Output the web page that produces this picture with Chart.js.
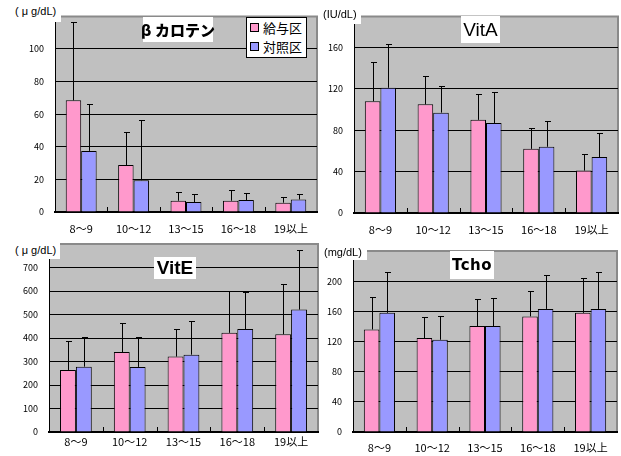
<!DOCTYPE html>
<html>
<head>
<meta charset="utf-8">
<script src="https://cdn.jsdelivr.net/npm/chart.js@4/dist/chart.umd.min.js"></script>
<style>
  html, body { margin:0; padding:0; background:#fff; width:621px; height:456px; overflow:hidden; }
  #wrap { position:relative; width:621px; height:456px; font-family:"Noto Sans CJK JP", sans-serif; }
  #wrap canvas { position:absolute; left:0; top:0; }
  .box { position:absolute; background:#fff; color:#000; white-space:nowrap; z-index:5;
         display:flex; align-items:center; justify-content:center; }
  .unit { font-family:"Liberation Sans", Arial, sans-serif; font-size:11px; justify-content:flex-start; }
  .legend { position:absolute; background:#fff; border:1px solid #000; z-index:6; box-sizing:border-box;
            font-family:"Noto Sans CJK JP", sans-serif; font-size:13px; line-height:19px; padding:0 0 0 3px; }
  .legend .row { display:flex; align-items:center; height:19px; }
  .legend .sw { width:7px; height:7px; border:1px solid #000; margin-right:4px; }
</style>
</head>
<body>
<div id="wrap">
  <canvas id="c1" width="621" height="456"></canvas>
  <canvas id="c2" width="621" height="456"></canvas>
  <canvas id="c3" width="621" height="456"></canvas>
  <canvas id="c4" width="621" height="456"></canvas>

  <div class="box unit" style="left:0;top:0;width:61px;height:22px;padding-left:15px;box-sizing:border-box;">( μ g/dL)</div>
  <div class="box" style="left:143px;top:17px;width:70px;height:25px;font-weight:900;font-size:15px;">β カロテン</div>
  <div class="legend" id="legend" style="left:246px;top:17px;width:61px;height:41px;"></div>

  <div class="box unit" style="left:319px;top:3px;width:42px;height:21px;padding-left:4px;box-sizing:border-box;">(IU/dL)</div>
  <div class="box" style="left:461px;top:16px;width:39px;height:27px;font-family:'Liberation Sans',Arial,sans-serif;font-size:19px;">VitA</div>

  <div class="box unit" style="left:0;top:241px;width:60px;height:18px;padding-left:15px;box-sizing:border-box;">( μ g/dL)</div>
  <div class="box" style="left:154px;top:257px;width:42px;height:22px;font-family:'Liberation Sans',Arial,sans-serif;font-weight:bold;font-size:19px;">VitE</div>

  <div class="box unit" style="left:319px;top:243px;width:48px;height:17px;padding-left:5px;box-sizing:border-box;">(mg/dL)</div>
  <div class="box" style="left:450px;top:251px;width:44px;height:28px;font-family:'DejaVu Sans',sans-serif;font-weight:bold;font-size:15px;letter-spacing:0.5px;">Tcho</div>
</div>

<script>
// Age groups (years) and the two feeding groups
const ageGroups  = ['8～9', '10～12', '13～15', '16～18', '19以上'];
const groupNames = ['給与区', '対照区'];
const groupColors = ['#FF99CC', '#9999FF'];

// β-carotene (μg/dL): means and SD
const caroteneFed     = [68.5, 28.8, 6.9, 6.9, 5.7];
const caroteneFedSD   = [48.0, 20.2, 5.3, 6.3, 3.8];
const caroteneCtrl    = [37.5, 19.5, 6.1, 7.3, 7.7];
const caroteneCtrlSD  = [28.5, 37.1, 4.9, 4.3, 3.3];

// Vitamin A (IU/dL)
const vitAFed    = [108, 105, 90, 62, 41];
const vitAFedSD  = [38, 27, 25, 20, 16];
const vitACtrl   = [121, 97, 87, 64, 54];
const vitACtrlSD = [42, 26, 30, 25, 23];

// Vitamin E (μg/dL)
const vitEFed    = [264, 340, 321, 422, 416];
const vitEFedSD  = [125, 123, 117, 180, 213];
const vitECtrl   = [278, 277, 329, 438, 521];
const vitECtrlSD = [128, 129, 143, 159, 254];

// Total cholesterol (mg/dL)
const tchoFed    = [136, 124.5, 140.5, 153.3, 158];
const tchoFedSD  = [43, 27.5, 35.5, 33, 46.5];
const tchoCtrl   = [158, 122.3, 140.5, 163.2, 163.2];
const tchoCtrlSD = [54.5, 32, 37, 44.4, 49.3];

Chart.defaults.font.family = '"Noto Sans CJK JP", sans-serif';
Chart.defaults.color = '#000';
Chart.defaults.animation = false;

// Gray plot background, border and small boundary ticks on the category axis
const plotFrame = {
  id: 'plotFrame',
  beforeDraw(chart) {
    const a = chart.chartArea, c = chart.ctx;
    c.save();
    c.fillStyle = '#C0C0C0';
    c.fillRect(a.left, a.top, a.right - a.left, a.bottom - a.top);
    c.strokeStyle = '#8a8a8a';
    c.lineWidth = 2;
    c.beginPath();
    c.moveTo(a.left, a.top); c.lineTo(a.right, a.top); c.lineTo(a.right, a.bottom);
    c.stroke();
    c.restore();
  },
  afterDraw(chart) {
    const x = chart.scales.x, a = chart.chartArea, c = chart.ctx;
    c.save();
    c.strokeStyle = '#000';
    c.lineWidth = 1;
    c.beginPath();
    for (let i = 1; i < x.ticks.length; i++) {
      const px = Math.round((x.getPixelForTick(i - 1) + x.getPixelForTick(i)) / 2) + 0.5;
      c.moveTo(px, a.bottom); c.lineTo(px, a.bottom - 5);
    }
    c.stroke();
    c.restore();
  }
};

// Upward SD whiskers with a short cap
const sdBars = {
  id: 'sdBars',
  afterDatasetsDraw(chart) {
    const c = chart.ctx, y = chart.scales.y;
    c.save();
    c.strokeStyle = '#000';
    c.lineWidth = 1;
    chart.data.datasets.forEach((ds, i) => {
      const meta = chart.getDatasetMeta(i);
      meta.data.forEach((el, j) => {
        const top = y.getPixelForValue(ds.data[j] + ds.sd[j]);
        const px = Math.round(el.x) + 0.5;
        const py = Math.round(top) + 0.5;
        c.beginPath();
        c.moveTo(px, el.y); c.lineTo(px, py);
        c.moveTo(px - 2.5, py); c.lineTo(px + 3.5, py);
        c.stroke();
      });
    });
    c.restore();
  }
};

const Y_W = 40, X_H = 24;

function makePanel(id, area, max, step, xPad, fed, fedSD, ctrl, ctrlSD) {
  new Chart(document.getElementById(id), {
    type: 'bar',
    data: {
      labels: ageGroups,
      datasets: [
        { label: groupNames[0], data: fed,  sd: fedSD,  backgroundColor: groupColors[0],
          borderColor: '#000', borderWidth: 1, borderSkipped: 'bottom' },
        { label: groupNames[1], data: ctrl, sd: ctrlSD, backgroundColor: groupColors[1],
          borderColor: '#000', borderWidth: 1, borderSkipped: 'bottom' }
      ]
    },
    options: {
      responsive: false,
      maintainAspectRatio: false,
      layout: { padding: { left: area.left - Y_W, top: area.top, right: 621 - area.right,
                           bottom: 456 - area.bottom - X_H } },
      datasets: { bar: { categoryPercentage: 0.59, barPercentage: 1.0 } },
      plugins: { legend: { display: false }, tooltip: { enabled: false } },
      scales: {
        x: {
          grid: { color: 'rgba(0,0,0,0)', drawTicks: false },
          border: { color: '#000', width: 2 },
          ticks: { padding: xPad, font: { size: 11 }, maxRotation: 0, autoSkip: false },
          afterFit(s) { s.height = X_H; }
        },
        y: {
          min: 0, max: max,
          grid: { drawTicks: false, color: (ctx) => (ctx.tick.value === max ? 'rgba(0,0,0,0)' : '#000') },
          border: { color: '#000', width: 1 },
          ticks: { stepSize: step, padding: 11, font: { size: 9 },
                   callback: (v) => (v % step === 0 && v !== max ? v : '') },
          afterFit(s) { s.width = Y_W; }
        }
      }
    },
    plugins: [plotFrame, sdBars]
  });
}

makePanel('c1', { left: 55, top: 8,   right: 317, bottom: 212 }, 120, 20, 10, caroteneFed, caroteneFedSD, caroteneCtrl, caroteneCtrlSD);
makePanel('c2', { left: 354, top: 7,  right: 618, bottom: 213 }, 190, 40, 10, vitAFed, vitAFedSD, vitACtrl, vitACtrlSD);
makePanel('c3', { left: 49, top: 244, right: 318, bottom: 432 }, 800, 100, 3, vitEFed, vitEFedSD, vitECtrl, vitECtrlSD);
makePanel('c4', { left: 353, top: 251, right: 617, bottom: 432 }, 240, 40, 9, tchoFed, tchoFedSD, tchoCtrl, tchoCtrlSD);

// Legend for the β-carotene panel, built from the group names and colours
const lg = document.getElementById('legend');
groupNames.forEach((n, i) => {
  const row = document.createElement('div');
  row.className = 'row';
  const sw = document.createElement('span');
  sw.className = 'sw';
  sw.style.background = groupColors[i];
  const tx = document.createElement('span');
  tx.textContent = n;
  row.appendChild(sw); row.appendChild(tx);
  lg.appendChild(row);
});
</script>
</body>
</html>
